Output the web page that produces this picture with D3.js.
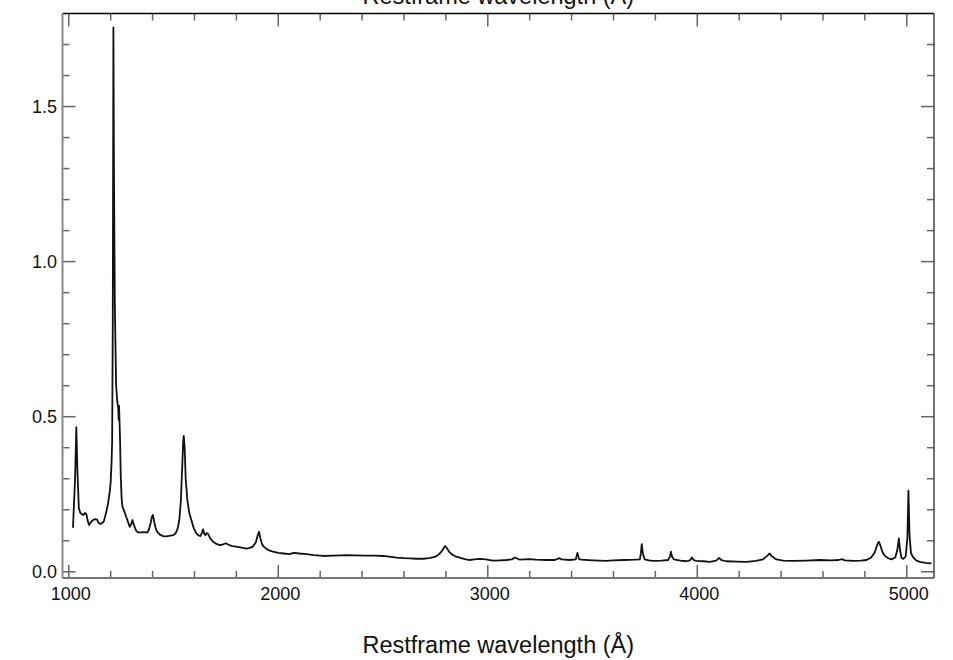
<!DOCTYPE html>
<html>
<head>
<meta charset="utf-8">
<script src="https://cdn.jsdelivr.net/npm/d3@7"></script>
<style>
  html, body { margin: 0; padding: 0; background: #fff; }
  svg { display: block; }
  text { font-family: "Liberation Sans", Arial, Helvetica, sans-serif; fill: #111; }
</style>
</head>
<body>
<svg id="chart" width="953" height="660"></svg>
<script>
// ---- data ----
const wavelength = [
  1020,1030,1036,1041,1048,1055,1062,1070,1078,1084,1092,1097,1105,1116,1126,1135,1143,1151,1160,1167,
  1178,1188,1196,1200,1204,1207,1210,1213,1216,1220,1226,1232,1236,1238,1240,1242,1245,1248,1252,1256,
  1265,1275,1283,1291,1297,1304,1309,1315,1322,1331,1345,1360,1374,1382,1390,1397,1402,1408,1415,1422,
  1435,1450,1465,1480,1498,1510,1520,1528,1535,1541,1546,1549,1553,1558,1566,1575,1585,1597,1609,1620,
  1628,1635,1641,1647,1652,1658,1665,1675,1689,1705,1721,1735,1750,1760,1780,1800,1825,1848,1865,1880,
  1893,1902,1908,1914,1922,1931,1945,1960,1975,2000,2025,2055,2068,2079,2100,2135,2170,2214,2260,2300,
  2326,2360,2421,2460,2500,2530,2564,2600,2628,2660,2691,2720,2747,2765,2779,2790,2797,2805,2815,2827,
  2845,2866,2890,2914,2935,2962,2990,3025,3060,3089,3115,3130,3140,3153,3175,3197,3230,3280,3320,3343,
  3352,3391,3420,3428,3436,3447,3500,3566,3600,3650,3700,3726,3731,3735,3740,3749,3770,3789,3830,3861,
  3870,3874,3879,3888,3920,3948,3965,3974,3982,3996,4030,4060,4090,4104,4115,4139,4190,4235,4280,4314,
  4335,4346,4355,4362,4370,4378,4410,4457,4520,4585,4640,4675,4690,4705,4744,4780,4808,4830,4847,4858,
  4866,4874,4885,4895,4910,4927,4945,4955,4962,4968,4975,4985,4995,5003,5008,5013,5020,5030,5045,5062,
  5090,5118
];
const flux = [
  0.142,0.300,0.466,0.330,0.205,0.190,0.186,0.183,0.190,0.185,0.160,0.151,0.160,0.167,0.170,0.168,0.157,0.154,0.158,0.162,
  0.190,0.222,0.260,0.290,0.350,0.420,0.800,1.755,1.250,0.850,0.600,0.545,0.530,0.490,0.535,0.490,0.420,0.310,0.240,0.210,
  0.195,0.175,0.160,0.145,0.152,0.167,0.155,0.143,0.132,0.127,0.127,0.128,0.126,0.135,0.155,0.178,0.183,0.160,0.140,0.129,
  0.120,0.115,0.114,0.116,0.118,0.124,0.140,0.170,0.230,0.330,0.420,0.438,0.400,0.300,0.231,0.190,0.167,0.140,0.124,0.117,
  0.115,0.125,0.137,0.122,0.118,0.125,0.122,0.108,0.097,0.090,0.086,0.088,0.092,0.088,0.083,0.081,0.078,0.075,0.077,0.082,
  0.095,0.118,0.129,0.110,0.090,0.081,0.073,0.068,0.065,0.061,0.059,0.057,0.060,0.061,0.059,0.057,0.054,0.051,0.052,0.053,
  0.054,0.053,0.052,0.052,0.051,0.049,0.046,0.044,0.043,0.042,0.042,0.044,0.048,0.055,0.065,0.077,0.083,0.076,0.065,0.057,
  0.050,0.046,0.041,0.038,0.040,0.042,0.040,0.036,0.037,0.038,0.040,0.046,0.043,0.039,0.040,0.041,0.039,0.038,0.038,0.044,
  0.040,0.038,0.040,0.061,0.041,0.039,0.037,0.035,0.037,0.038,0.039,0.040,0.060,0.089,0.060,0.040,0.037,0.035,0.036,0.038,
  0.050,0.065,0.050,0.040,0.036,0.034,0.037,0.046,0.038,0.035,0.034,0.032,0.036,0.045,0.038,0.034,0.033,0.032,0.035,0.040,
  0.052,0.059,0.050,0.048,0.043,0.040,0.036,0.035,0.036,0.038,0.037,0.038,0.041,0.037,0.035,0.036,0.038,0.046,0.062,0.085,
  0.097,0.085,0.062,0.052,0.044,0.040,0.046,0.070,0.108,0.070,0.044,0.042,0.050,0.110,0.262,0.120,0.060,0.047,0.037,0.032,
  0.029,0.027
];
const xDomain = [970, 5130];
const yDomain = [-0.02, 1.8];
const xMajorTicks = [1000, 2000, 3000, 4000, 5000];
const yMajorTicks = [0.0, 0.5, 1.0, 1.5];
const xTitle = "Restframe wavelength (Å)";

(function () {
  const svg = d3.select("#chart");
  const pL = 62.5, pR = 934, pT = 13.5, pB = 578;
  const x = d3.scaleLinear().domain(xDomain).range([pL, pR]);
  const y = d3.scaleLinear().domain(yDomain).range([pB, pT]);

  const xMinor = d3.range(1000, 5130, 200).filter(v => !xMajorTicks.includes(v));
  const yMinor = d3.range(0, 18).map(i => +(i * 0.1).toFixed(1))
    .filter(v => !yMajorTicks.some(m => Math.abs(m - v) < 1e-9));

  const majLen = 13, minLen = 7;
  const g = svg.append("g");

  function vTicks(vals, len, y0, dir, color) {
    g.selectAll(null).data(vals).enter().append("line")
      .attr("x1", d => x(d)).attr("x2", d => x(d))
      .attr("y1", y0).attr("y2", y0 + dir * len)
      .attr("stroke", color).attr("stroke-width", 1.5);
  }
  function hTicks(vals, len, x0, dir, color) {
    g.selectAll(null).data(vals).enter().append("line")
      .attr("y1", d => y(d)).attr("y2", d => y(d))
      .attr("x1", x0).attr("x2", x0 + dir * len)
      .attr("stroke", color).attr("stroke-width", 1.5);
  }
  vTicks(xMajorTicks, majLen, pB, -1, "#666");
  vTicks(xMinor, minLen, pB, -1, "#666");
  vTicks(xMajorTicks, majLen, pT, 1, "#666");
  vTicks(xMinor, minLen, pT, 1, "#666");
  hTicks(yMajorTicks, majLen, pL, 1, "#666");
  hTicks(yMinor, minLen, pL, 1, "#666");
  hTicks(yMajorTicks, majLen, pR, -1, "#666");
  hTicks(yMinor, minLen, pR, -1, "#666");

  g.append("line").attr("x1", pL).attr("x2", pR).attr("y1", pT).attr("y2", pT).attr("stroke", "#000").attr("stroke-width", 1.5);
  g.append("line").attr("x1", pL).attr("x2", pR).attr("y1", pB).attr("y2", pB).attr("stroke", "#777").attr("stroke-width", 2);
  g.append("line").attr("x1", pL).attr("x2", pL).attr("y1", pT).attr("y2", pB).attr("stroke", "#888").attr("stroke-width", 2);
  g.append("line").attr("x1", pR).attr("x2", pR).attr("y1", pT).attr("y2", pB).attr("stroke", "#444").attr("stroke-width", 1.5);

  g.selectAll(null).data(xMajorTicks).enter().append("text")
    .attr("x", d => x(d) + 2).attr("y", 600)
    .attr("text-anchor", "middle").attr("font-size", "18px")
    .text(d => d);
  g.selectAll(null).data(yMajorTicks).enter().append("text")
    .attr("x", 57).attr("y", d => y(d)).attr("dy", "0.36em")
    .attr("text-anchor", "end").attr("font-size", "18px")
    .text(d => d.toFixed(1));

  svg.append("text").attr("x", (pL + pR) / 2).attr("y", 653)
    .attr("text-anchor", "middle").attr("font-size", "23.5px").text(xTitle);
  svg.append("text").attr("x", (pL + pR) / 2).attr("y", 4)
    .attr("text-anchor", "middle").attr("font-size", "23.5px").text(xTitle);

  const pts = wavelength.map((w, i) => [w, flux[i]]);
  const line = d3.line().x(d => x(d[0])).y(d => y(d[1]));
  g.append("path").datum(pts)
    .attr("d", line)
    .attr("fill", "none")
    .attr("stroke", "#111")
    .attr("stroke-width", 1.8)
    .attr("stroke-linejoin", "round");
})();
</script>
</body>
</html>
